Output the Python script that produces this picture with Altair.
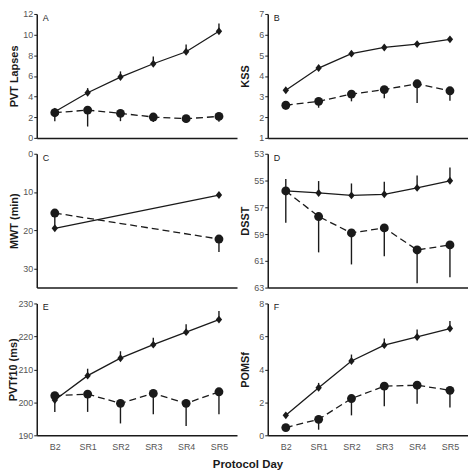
import altair as alt
import pandas as pd

days = ["B2", "SR1", "SR2", "SR3", "SR4", "SR5"]

# Panel A: PVT Lapses
a_solid = [2.53, 4.37, 5.89, 7.18, 8.34, 10.32]
a_solid_bar = [2.84, 4.82, 6.44, 7.88, 9.04, 11.08]
a_dash = [2.44, 2.69, 2.38, 2.02, 1.86, 2.08]
a_dash_bar = [1.62, 1.10, 1.62, 1.53, 1.47, 1.56]

# Panel B: KSS
b_solid = [3.31, 4.38, 5.08, 5.38, 5.54, 5.77]
b_solid_bar = [3.40, 4.50, 5.18, 5.48, 5.64, 5.85]
b_dash = [2.58, 2.77, 3.12, 3.34, 3.62, 3.28]
b_dash_bar = [2.38, 2.46, 2.77, 2.92, 2.69, 2.80]

# Panel C: MWT (min), only B2 and SR5
c_days = ["B2", "SR5"]
c_solid = [19.5, 10.8]
c_solid_bar = [19.5, 10.8]
c_dash = [15.5, 22.3]
c_dash_bar = [19.3, 25.7]

# Panel D: DSST
d_solid = [55.78, 55.93, 56.11, 56.03, 55.55, 55.02]
d_solid_bar = [54.89, 55.04, 55.22, 55.09, 54.63, 54.02]
d_dash = [55.78, 57.69, 58.92, 58.54, 60.19, 59.81]
d_dash_bar = [58.15, 60.37, 61.27, 60.65, 62.67, 62.23]

# Panel E: PVTf10 (ms)
e_solid = [200.7, 208.1, 213.4, 217.5, 221.3, 225.1]
e_solid_bar = [201.5, 210.2, 215.5, 219.6, 223.7, 227.7]
e_dash = [202.0, 202.5, 199.7, 202.7, 199.7, 203.2]
e_dash_bar = [197.1, 197.1, 193.6, 196.4, 192.8, 196.4]

# Panel F: POMSf
f_solid = [1.21, 2.89, 4.51, 5.47, 5.97, 6.48]
f_solid_bar = [1.32, 3.18, 4.90, 5.87, 6.42, 6.94]
f_dash = [0.47, 0.97, 2.23, 2.98, 3.04, 2.73]
f_dash_bar = [0.26, 0.34, 1.21, 1.76, 1.92, 1.68]

FONT = "Liberation Sans, Arial, sans-serif"
INK = "#1a1a1a"
DIAMOND = "M-0.8,0L0,-1L0.8,0L0,1Z"


def panel(letter, title, domain, ticks, xs, solid, solid_bar, dash, dash_bar,
          show_x, height, title_x, reverse=False):
    rows = []
    for d, v, e in zip(xs, solid, solid_bar):
        rows.append({"day": d, "v": v, "e": e, "s": "solid"})
    for d, v, e in zip(xs, dash, dash_bar):
        rows.append({"day": d, "v": v, "e": e, "s": "dash"})
    df = pd.DataFrame(rows)

    xenc = alt.X(
        "day:N",
        scale=alt.Scale(type="point", domain=days, padding=0.55),
        axis=alt.Axis(
            title=None,
            labels=show_x,
            ticks=False,
            labelPadding=7,
            labelAngle=0,
        ),
    )
    yscale = alt.Scale(domain=domain, reverse=reverse, nice=False, zero=False)
    yenc = alt.Y(
        "v:Q",
        scale=yscale,
        axis=alt.Axis(
            title=title,
            values=ticks,
            titleX=title_x,
            titleBaseline="middle",
        ),
    )

    base = alt.Chart(df)
    solid_line = base.transform_filter(alt.datum.s == "solid").mark_line(
        color=INK, strokeWidth=1.3
    ).encode(x=xenc, y=yenc)
    dash_line = base.transform_filter(alt.datum.s == "dash").mark_line(
        color=INK, strokeWidth=1.3, strokeDash=[7, 4]
    ).encode(x=xenc, y=yenc)
    bars = base.mark_rule(color=INK, strokeWidth=1.4).encode(
        x=xenc, y=yenc, y2="e:Q"
    )
    solid_pts = base.transform_filter(alt.datum.s == "solid").mark_point(
        shape=DIAMOND, filled=True, color=INK, size=64, opacity=1
    ).encode(x=xenc, y=yenc)
    dash_pts = base.transform_filter(alt.datum.s == "dash").mark_point(
        shape="circle", filled=True, color=INK, size=80, opacity=1
    ).encode(x=xenc, y=yenc)
    lab = alt.Chart(pd.DataFrame({"t": [letter]})).mark_text(
        align="left", baseline="middle", font=FONT, fontSize=9, color=INK
    ).encode(x=alt.value(6), y=alt.value(4), text="t:N")

    return alt.layer(solid_line, dash_line, bars, solid_pts, dash_pts, lab).properties(
        width=202, height=height
    )


pA = panel("A", "PVT Lapses", [0, 12], [0, 2, 4, 6, 8, 10, 12], days,
           a_solid, a_solid_bar, a_dash, a_dash_bar, False, 125, -22)
pB = panel("B", "KSS", [1, 7], [1, 2, 3, 4, 5, 6, 7], days,
           b_solid, b_solid_bar, b_dash, b_dash_bar, False, 125, -22)
pC = panel("C", "MWT (min)", [0, 35], [0, 10, 20, 30], c_days,
           c_solid, c_solid_bar, c_dash, c_dash_bar, False, 135, -22, reverse=True)
pD = panel("D", "DSST", [53, 63], [53, 55, 57, 59, 61, 63], days,
           d_solid, d_solid_bar, d_dash, d_dash_bar, False, 135, -22, reverse=True)
pE = panel("E", "PVTf10 (ms)", [190, 230], [190, 200, 210, 220, 230], days,
           e_solid, e_solid_bar, e_dash, e_dash_bar, True, 133, -23)
pF = panel("F", "POMSf", [0, 8], [0, 2, 4, 6, 8], days,
           f_solid, f_solid_bar, f_dash, f_dash_bar, True, 133, -22)

chart = alt.concat(
    pA, pB, pC, pD, pE, pF, columns=2, spacing={"row": 7, "column": 3}
).properties(
    padding={"left": 0, "top": 0, "right": 0, "bottom": 0},
    title=alt.TitleParams(
        "Protocol Day", orient="bottom", anchor="middle", font=FONT,
        fontSize=11.5, fontWeight="bold", color=INK, dx=10, offset=8
    ),
).configure_view(stroke=None).configure_axis(
    domainColor=INK,
    domainWidth=1.5,
    tickColor=INK,
    tickSize=3,
    tickWidth=1,
    labelPadding=1,
    labelFont=FONT,
    labelFontSize=9,
    labelColor="#555555",
    titleFont=FONT,
    titleFontSize=11,
    titleFontWeight="bold",
    titleColor=INK,
    grid=False,
)

chart.save("out.html", embed_options={"renderer": "svg", "actions": False})
